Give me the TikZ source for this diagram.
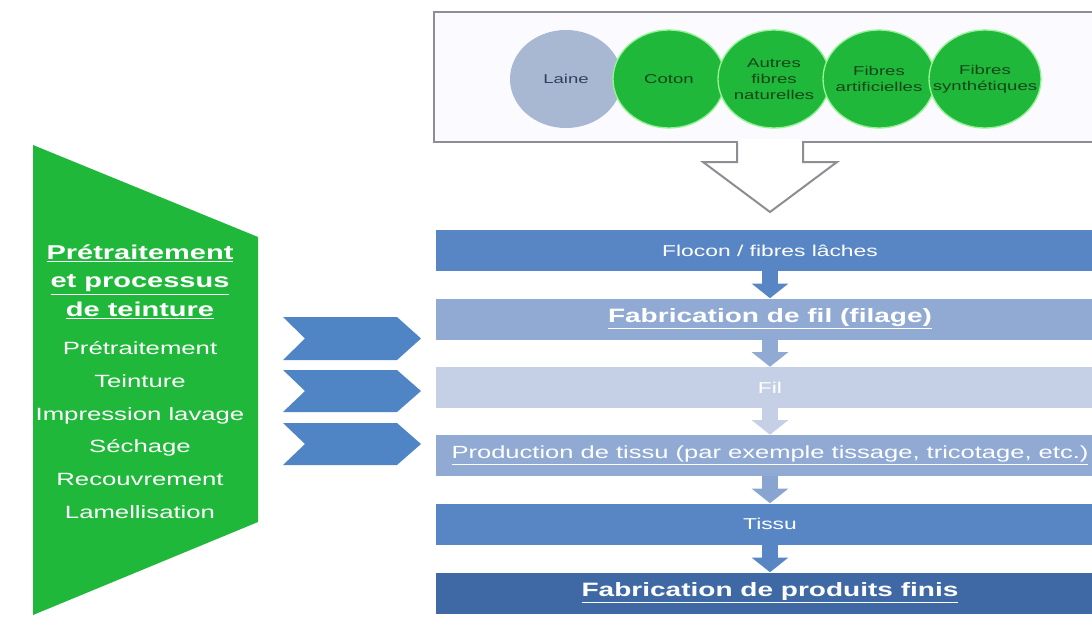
\documentclass[tikz,border=0pt]{standalone}
\usepackage{fontspec}
\setmainfont{Liberation Sans}[FakeStretch=1.45]
\usetikzlibrary{shapes.geometric,arrows.meta}
\definecolor{grn}{RGB}{32,184,58}
\definecolor{grnline}{RGB}{150,242,150}
\definecolor{laine}{RGB}{168,183,210}
\definecolor{lainetxt}{RGB}{50,64,95}
\definecolor{circtxt}{RGB}{20,70,25}
\definecolor{barA}{RGB}{88,134,196}
\definecolor{barB}{RGB}{145,170,212}
\definecolor{barC}{RGB}{197,208,230}
\definecolor{barD}{RGB}{62,105,165}
\definecolor{chev}{RGB}{80,133,197}
\definecolor{boxline}{RGB}{140,142,148}
\begin{document}
\begin{tikzpicture}[x=0.75pt,y=-0.75pt,
  fib/.style={ellipse, minimum width=84pt, minimum height=73.5pt, inner sep=0pt,
    fill=grn, draw=grnline, line width=1pt},
  fibtxt/.style={text=circtxt, font=\fontsize{9.6}{12}\selectfont, align=center, inner sep=0pt},
  bar/.style={minimum width=501pt, minimum height=30.75pt, inner sep=0pt, text=white},
  small/.style={font=\fontsize{11.8}{14}\selectfont},
  big/.style={font=\bfseries\fontsize{14.5}{17}\selectfont},
  flow/.style={line width=12.5pt, -{Triangle[width=27pt,length=11pt]}},
  chevron/.style={fill=chev},
]
\useasboundingbox (0,0) rectangle (1092,629);
\clip (0,0) rectangle (1092,629);
\fill[white] (0,0) rectangle (1092,629);

% top box with fibres
\draw[boxline, fill=blue!2!white, line width=1.5pt] (434,12) rectangle (1110,142);
\node[fib, fill=laine, draw=none, label={[fibtxt, text=lainetxt]center:Laine}] (laine) at (566,79) {};
\node[fib, label={[fibtxt]center:Coton}] (coton) at (669,79) {};
\node[fib, label={[fibtxt]center:Autres\\fibres\\naturelles}] (autres) at (774,79) {};
\node[fib, label={[fibtxt]center:Fibres\\artificielles}] (artif) at (879,79) {};
\node[fib, label={[fibtxt]center:Fibres\\synthétiques}] (synth) at (985,79) {};

% big hollow down arrow
\coordinate (bigtip) at (770,212);
\fill[white] (738,139) rectangle (802,146);
\draw[boxline, line width=1.5pt, fill=white, line join=miter]
  (737,142) -- (737,162) -- (703,162) -- (bigtip) -- (837,162) -- (803,162) -- (803,142);

% process bars
\node[bar, fill=barA, small] (b1) at (770,250.5) {Flocon / fibres lâches};
\node[bar, fill=barB, big] (b2) at (770,319) {\underline{Fabrication de fil (filage)}};
\node[bar, fill=barC, small] (b3) at (770,387.5) {Fil};
\node[bar, fill=barB, font=\fontsize{13.2}{16}\selectfont] (b4) at (770,455.5) {\underline{Production de tissu (par exemple tissage, tricotage, etc.)}};
\node[bar, fill=barA, small] (b5) at (770,524) {Tissu};
\node[bar, fill=barD, big] (b6) at (770,593) {\underline{Fabrication de produits finis}};

\draw[flow, barA] (b1.south) -- (b2.north);
\draw[flow, barB] (b2.south) -- (b3.north);
\draw[flow, barC] (b3.south) -- (b4.north);
\draw[flow, barB!85!barA] (b4.south) -- (b5.north);
\draw[flow, barA] (b5.south) -- (b6.north);

% green trapezoid
\fill[grn] (33,145) -- (258,237) -- (258,522) -- (33,615) -- cycle;
\node[text=white, align=center, font=\bfseries\fontsize{15}{21.4}\selectfont] (ttl) at (140,282)
  {\underline{Prétraitement}\\\underline{et processus}\\\underline{de teinture}};
\node[text=white, align=center, font=\fontsize{13.3}{24.6}\selectfont] (items) at (140,430)
  {Prétraitement\\Teinture\\Impression lavage\\Séchage\\Recouvrement\\Lamellisation};

% chevrons
\fill[chevron] (283,317) -- (397,317) -- (421,338.5) -- (397,360) -- (283,360) -- (305,338.5) -- cycle;
\fill[chevron] (283,370) -- (397,370) -- (421,391) -- (397,412) -- (283,412) -- (305,391) -- cycle;
\fill[chevron] (283,423) -- (397,423) -- (421,444) -- (397,465) -- (283,465) -- (305,444) -- cycle;
\end{tikzpicture}
\end{document}
